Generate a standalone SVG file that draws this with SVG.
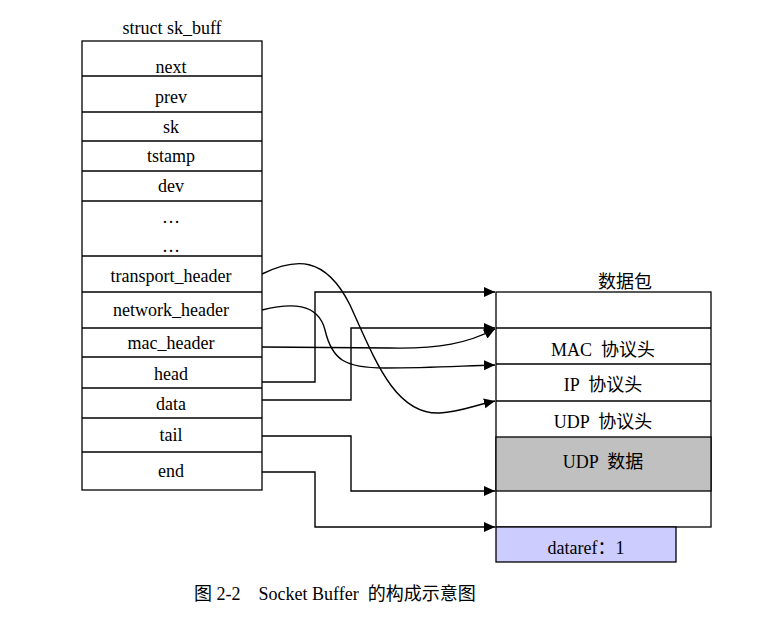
<svg xmlns="http://www.w3.org/2000/svg" width="775" height="625" viewBox="0 0 775 625">
<defs>
<marker id="arr" markerUnits="userSpaceOnUse" markerWidth="12" markerHeight="11" refX="11" refY="5" orient="auto">
<path d="M0,0 L11,5 L0,10 z" fill="#000"/>
</marker>
<style>
text{font-family:"Liberation Serif","Noto Sans CJK SC",serif;font-size:18px;fill:#000;text-anchor:middle}
.box{fill:#fff;stroke:#000;stroke-width:1.3}
.ln{stroke:#000;stroke-width:1.3}
.con{fill:none;stroke:#000;stroke-width:1.4;marker-end:url(#arr)}
</style>
</defs>
<rect width="775" height="625" fill="#fff"/>
<g id="sk_buff">
<text x="172" y="34" font-size="19.5">struct sk_buff</text>
<rect class="box" x="82" y="41" width="180" height="449"/>
<g class="ln">
<line x1="82" y1="76" x2="262" y2="76"/>
<line x1="82" y1="112" x2="262" y2="112"/>
<line x1="82" y1="141" x2="262" y2="141"/>
<line x1="82" y1="171" x2="262" y2="171"/>
<line x1="82" y1="201" x2="262" y2="201"/>
<line x1="82" y1="256" x2="262" y2="256"/>
<line x1="82" y1="292" x2="262" y2="292"/>
<line x1="82" y1="328" x2="262" y2="328"/>
<line x1="82" y1="357" x2="262" y2="357"/>
<line x1="82" y1="388" x2="262" y2="388"/>
<line x1="82" y1="418" x2="262" y2="418"/>
<line x1="82" y1="452" x2="262" y2="452"/>
</g>
<text x="171" y="73">next</text>
<text x="171" y="103">prev</text>
<text x="171" y="133">sk</text>
<text x="171" y="162">tstamp</text>
<text x="171" y="192">dev</text>
<text x="171" y="223">…</text>
<text x="171" y="252">…</text>
<text x="171" y="282">transport_header</text>
<text x="171" y="316">network_header</text>
<text x="171" y="349">mac_header</text>
<text x="171" y="380">head</text>
<text x="171" y="410">data</text>
<text x="171" y="441">tail</text>
<text x="171" y="477">end</text>
</g>
<g id="packet">
<text x="625" y="288">数据包</text>
<rect class="box" x="496" y="292" width="215" height="235"/>
<rect x="496" y="437" width="215" height="54" fill="#c0c0c0" stroke="#000" stroke-width="1.3"/>
<g class="ln">
<line x1="496" y1="328" x2="711" y2="328"/>
<line x1="496" y1="364" x2="711" y2="364"/>
<line x1="496" y1="401" x2="711" y2="401"/>
</g>
<text x="603" y="356" xml:space="preserve">MAC  协议头</text>
<text x="603" y="391" xml:space="preserve">IP  协议头</text>
<text x="603" y="428" xml:space="preserve">UDP  协议头</text>
<text x="603" y="468" xml:space="preserve">UDP  数据</text>
</g>
<g id="dataref">
<rect x="496" y="527" width="180" height="35" fill="#ccccff" stroke="#000" stroke-width="1.3"/>
<text x="586" y="554">dataref：1</text>
</g>
<g id="connectors">
<path class="con" d="M262,274 C295,258 325,255 350,305 C375,360 395,415 440,413 C460,412 472,406 495,401"/>
<path class="con" d="M262,310 C290,303 318,302 325,330 C332,360 345,368 385,368 C430,368 460,366 495,365"/>
<path class="con" d="M262,347 L390,348 C440,349 468,343 495,329"/>
<path class="con" d="M262,382 L315,382 L315,292 L495,292"/>
<path class="con" d="M262,400 L351,400 L351,328 L495,328"/>
<path class="con" d="M262,436 L351,436 L351,491 L495,491"/>
<path class="con" d="M262,472 L315,472 L315,527 L495,527"/>
</g>
<text x="194" y="600" font-size="18" style="text-anchor:start" xml:space="preserve">图 2-2    Socket Buffer  的构成示意图</text>
</svg>
